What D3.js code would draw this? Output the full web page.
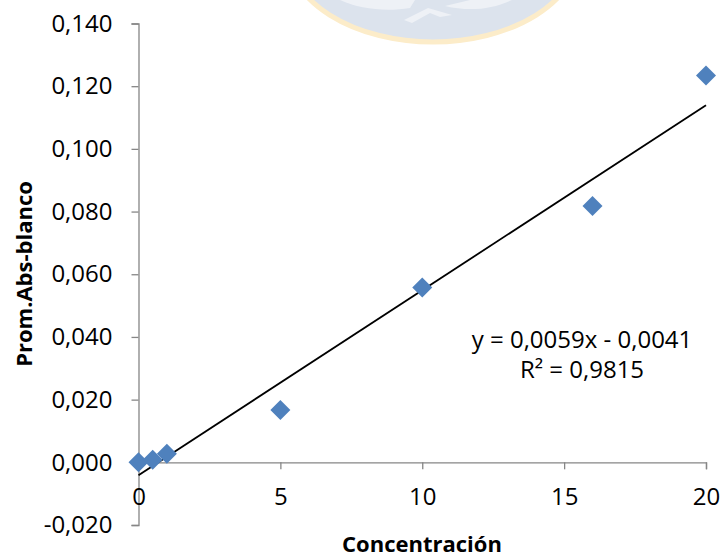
<!DOCTYPE html>
<html><head><meta charset="utf-8">
<script src="https://cdn.jsdelivr.net/npm/d3@7"></script>
<style>
html,body{margin:0;padding:0;background:#fff;}
svg{display:block;}
text{font-family:"Open Sans","Liberation Sans",sans-serif;}
</style></head>
<body>
<div id="chart"></div>
<script>
const concentracion = [0, 0.5, 1, 5, 10, 16, 20];
const absorbancia = [0.0000, 0.0008, 0.0027, 0.0167, 0.0558, 0.0818, 0.1234];
const yTicks = [-0.020, 0.000, 0.020, 0.040, 0.060, 0.080, 0.100, 0.120, 0.140];
const xTicks = [0, 5, 10, 15, 20];
const trend = {slope: 0.0059, intercept: -0.0041};
const equationLines = ["y = 0,0059x - 0,0041", "R² = 0,9815"];
const xTitle = "Concentración";
const yTitle = "Prom.Abs-blanco";

const W = 723, H = 558;
const svg = d3.select("#chart").append("svg").attr("width", W).attr("height", H);

// faint watermark logo at top
const wm = svg.append("g");
wm.append("ellipse").attr("cx", 433).attr("cy", -50).attr("rx", 146).attr("ry", 92)
  .attr("fill", "#dce3ed").attr("stroke", "#fcecc9").attr("stroke-width", 5);
wm.append("path").attr("d", "M340,0 C360,9 385,12 410,8 L415,0 Z").attr("fill", "#eef1f6");
wm.append("path").attr("d", "M404,20 L428,8 L452,15 L440,17 L430,13 L412,23 Z").attr("fill", "#eef1f6");
wm.append("path").attr("d", "M445,6 C470,12 492,9 512,0 L470,0 Z").attr("fill", "#eef1f6");

const x = d3.scaleLinear().domain([0, 20]).range([138.5, 706]);
const y = d3.scaleLinear().domain([-0.020, 0.140]).range([525, 23.5]);
const fmt = d => d3.format(".3f")(d).replace(".", ",").replace("−", "-");

// y axis
const yAxis = svg.append("g").attr("transform", `translate(${x(0)},0)`)
  .call(d3.axisLeft(y).tickValues(yTicks).tickSize(7).tickPadding(19).tickFormat(fmt));
yAxis.select(".domain").attr("stroke", "#868686").attr("stroke-width", 1.3);
yAxis.selectAll(".tick line").attr("stroke", "#868686").attr("stroke-width", 1.3);
yAxis.selectAll("text").attr("font-size", 24).attr("fill", "#000")
  .style("font-family", "'Open Sans'");

// x axis at y = 0
const xAxis = svg.append("g").attr("transform", `translate(0,${y(0)})`)
  .call(d3.axisBottom(x).tickValues(xTicks).tickSize(7).tickPadding(19).tickFormat(d3.format("d")));
xAxis.select(".domain").attr("stroke", "#868686").attr("stroke-width", 1.3);
xAxis.selectAll(".tick line").attr("stroke", "#868686").attr("stroke-width", 1.3);
xAxis.selectAll("text").attr("font-size", 24).attr("fill", "#000")
  .style("font-family", "'Open Sans'");

// trendline
svg.append("line")
  .attr("x1", x(0)).attr("y1", y(trend.intercept))
  .attr("x2", x(20)).attr("y2", y(trend.slope * 20 + trend.intercept))
  .attr("stroke", "#000").attr("stroke-width", 1.8);

// points (diamonds)
svg.append("g").selectAll("path").data(concentracion.map((c, i) => [c, absorbancia[i]]))
  .join("path")
  .attr("d", d3.symbol().type(d3.symbolSquare).size(200))
  .attr("transform", d => `translate(${x(d[0])},${y(d[1])}) rotate(45)`)
  .attr("fill", "#4f81bd");

// equation
svg.append("g").selectAll("text").data(equationLines).join("text")
  .attr("x", 582).attr("y", (d, i) => 348 + i * 30)
  .attr("text-anchor", "middle").attr("font-size", 24).attr("fill", "#000")
  .text(d => d);

// titles
svg.append("text").attr("x", 422).attr("y", 552).attr("text-anchor", "middle")
  .attr("font-size", 22).attr("font-weight", "bold").text(xTitle);
svg.append("text").attr("transform", "translate(32,274) rotate(-90)").attr("text-anchor", "middle")
  .attr("font-size", 22).attr("font-weight", "bold").text(yTitle);
</script>
</body></html>
